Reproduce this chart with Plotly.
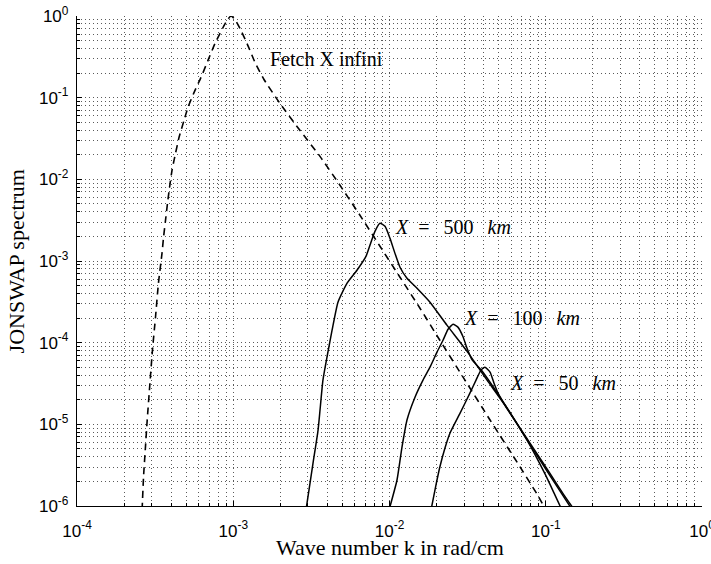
import math
import plotly.graph_objects as go

# JONSWAP spectra versus wave number (k in rad/cm)
# Fully developed sea (infinite fetch) -- dashed curve
k_inf = [2.61e-4, 2.665e-4, 2.735e-4, 2.805e-4, 2.93e-4, 3.04e-4, 3.18e-4, 3.32e-4,
         3.50e-4, 3.58e-4, 3.685e-4, 3.795e-4, 3.91e-4, 4.055e-4, 4.27e-4, 4.50e-4,
         4.84e-4, 5.13e-4, 5.69e-4, 6.22e-4, 6.89e-4, 7.64e-4, 8.60e-4, 9.12e-4,
         9.67e-4, 1.026e-3, 1.105e-3, 1.225e-3, 1.378e-3, 1.573e-3, 1.99e-3, 2.67e-3,
         3.59e-3, 4.82e-3, 6.47e-3, 8.69e-3, 1.167e-2, 1.567e-2, 2.10e-2, 3.04e-2,
         4.40e-2, 6.36e-2, 8.79e-2, 0.1004]
s_inf = [8.9e-7, 2.26e-6, 4.84e-6, 1.035e-5, 3.20e-5, 8.1e-5, 2.05e-4, 5.35e-4,
         1.245e-3, 1.95e-3, 3.15e-3, 5.09e-3, 7.98e-3, 1.29e-2, 2.08e-2, 3.27e-2,
         5.27e-2, 7.60e-2, 0.123, 0.177, 0.286, 0.461, 0.723, 0.881,
         1.0, 0.906, 0.703, 0.461, 0.270, 0.167, 8.51e-2, 3.98e-2,
         1.91e-2, 8.45e-3, 3.63e-3, 1.515e-3, 6.33e-4, 2.64e-4, 1.07e-4, 3.48e-5,
         1.13e-5, 3.76e-6, 1.40e-6, 8.9e-7]

# Fetch X = 500 km
k_500 = [2.92e-3, 3.24e-3, 3.49e-3, 3.75e-3, 3.98e-3, 4.29e-3, 4.68e-3,
         5.35e-3, 6.19e-3, 7.07e-3, 7.61e-3, 8.07e-3, 8.69e-3, 9.36e-3, 1.007e-2,
         1.084e-2, 1.167e-2, 1.294e-2, 1.50e-2, 1.816e-2, 2.33e-2, 3.13e-2, 4.21e-2,
         5.65e-2, 7.59e-2, 9.89e-2, 0.1146, 0.1252]
s_500 = [8.9e-7, 3.36e-6, 8.5e-6, 3.48e-5, 6.65e-5, 1.42e-4, 3.13e-4,
         5.35e-4, 7.71e-4, 1.14e-3, 1.70e-3, 2.31e-3, 2.90e-3, 2.66e-3, 1.90e-3,
         1.24e-3, 8.39e-4, 6.15e-4, 4.64e-4, 3.13e-4, 1.64e-4, 7.87e-5, 3.48e-5,
         1.58e-5, 6.41e-6, 2.47e-6, 1.36e-6, 9.46e-7]

# Fetch X = 100 km
k_100 = [9.93e-3, 1.117e-2, 1.202e-2, 1.294e-2, 1.456e-2, 1.638e-2, 1.816e-2,
         2.014e-2, 2.20e-2, 2.37e-2, 2.55e-2, 2.74e-2, 2.95e-2, 3.13e-2, 3.37e-2,
         3.91e-2, 5.40e-2, 7.47e-2, 0.1019, 0.1271, 0.1451]
s_100 = [8.9e-7, 2.08e-6, 5.27e-6, 1.13e-5, 2.15e-5, 3.48e-5, 5.01e-5,
         7.66e-5, 1.07e-4, 1.46e-4, 1.68e-4, 1.55e-4, 1.19e-4, 8.6e-5, 6.2e-5,
         4.5e-5, 1.82e-5, 6.79e-6, 2.68e-6, 1.40e-6, 9.46e-7]

# Fetch X = 50 km
k_50 = [1.843e-2, 1.984e-2, 2.10e-2, 2.265e-2, 2.44e-2, 2.83e-2, 3.27e-2,
        3.58e-2, 3.85e-2, 4.08e-2, 4.40e-2, 4.66e-2, 4.95e-2, 5.57e-2, 7.70e-2,
        0.1049, 0.1309, 0.1494]
s_50 = [8.9e-7, 1.81e-6, 3.00e-6, 5.13e-6, 7.82e-6, 1.37e-5, 2.41e-5,
        3.48e-5, 4.61e-5, 5.01e-5, 4.36e-5, 3.21e-5, 2.41e-5, 1.63e-5, 6.41e-6,
        2.61e-6, 1.36e-6, 9.46e-7]

# Curve labels: (text, k, S) at the left edge of each label
labels = [
    ("Fetch X infini", 1.67e-3, 0.30),
    ("<i>X</i>\u2002=\u2002\u2009500\u2002\u2009<i>km</i>", 1.05e-2, 2.6e-3),
    ("<i>X</i>\u2002=\u2002\u2009100\u2002\u2009<i>km</i>", 2.9e-2, 2.0e-4),
    ("<i>X</i>\u2002=\u2002\u200950\u2002\u2009<i>km</i>", 5.7e-2, 3.2e-5),
]

x_decades = [-4, -3, -2, -1, 0]
y_decades = [-6, -5, -4, -3, -2, -1, 0]

serif = "Liberation Serif, Times New Roman, serif"
sans = "Liberation Sans, Arial, sans-serif"

fig = go.Figure()
fig.add_trace(go.Scatter(x=k_inf, y=s_inf, mode="lines",
                         line=dict(color="black", width=1.6, dash="7px,5px",
                                   shape="spline", smoothing=0.5)))
for kk, ss in [(k_500, s_500), (k_100, s_100), (k_50, s_50)]:
    fig.add_trace(go.Scatter(x=kk, y=ss, mode="lines",
                             line=dict(color="black", width=1.5,
                                       shape="spline", smoothing=0.5)))

for text, kx, sy in labels:
    fig.add_annotation(x=math.log10(kx), y=math.log10(sy), xref="x", yref="y",
                       text=text, showarrow=False, xanchor="left", yanchor="middle",
                       font=dict(family=serif, size=20, color="black"))

# Axis titles
fig.add_annotation(x=0.5, y=-0.085, xref="paper", yref="paper",
                   text="Wave number k in rad/cm", showarrow=False,
                   xanchor="center", yanchor="middle",
                   font=dict(family=serif, size=22, color="black"))
fig.add_annotation(x=-0.097, y=0.5, xref="paper", yref="paper",
                   text="JONSWAP spectrum", showarrow=False, textangle=-90,
                   xanchor="center", yanchor="middle",
                   font=dict(family=serif, size=22, color="black"))

grid = dict(showgrid=True, gridcolor="#5a5a5a", gridwidth=1, griddash="1px,3px")


def minor_vals(decades):
    return [m * 10.0 ** e for e in decades[:-1] for m in range(2, 10)]


axis_common = dict(type="log", showline=True, linecolor="black", linewidth=1.3,
                   mirror=False, zeroline=False, ticks="inside", ticklen=5,
                   tickcolor="black", tickmode="array", ticklabeloverflow="allow",
                   automargin=False,
                   tickfont=dict(family=sans, size=17, color="black"), **grid)

fig.update_xaxes(range=[-4, 0],
                 tickvals=[10.0 ** e for e in x_decades],
                 ticktext=[f"10<sup>{e}</sup>" for e in x_decades],
                 ticklabelstandoff=9,
                 minor=dict(tickmode="array", tickvals=minor_vals(x_decades),
                            ticks="inside", ticklen=3, tickcolor="black", **grid),
                 **axis_common)
fig.update_yaxes(range=[-6, 0],
                 tickvals=[10.0 ** e for e in y_decades],
                 ticktext=[f"10<sup>{e}</sup>" for e in y_decades],
                 ticklabelstandoff=4,
                 minor=dict(tickmode="array", tickvals=minor_vals(y_decades),
                            ticks="inside", ticklen=3, tickcolor="black", **grid),
                 **axis_common)

fig.update_layout(width=711, height=564, showlegend=False,
                  margin=dict(l=77, r=9, t=16, b=58, autoexpand=False),
                  plot_bgcolor="white", paper_bgcolor="white")

fig.write_html("out.html")
